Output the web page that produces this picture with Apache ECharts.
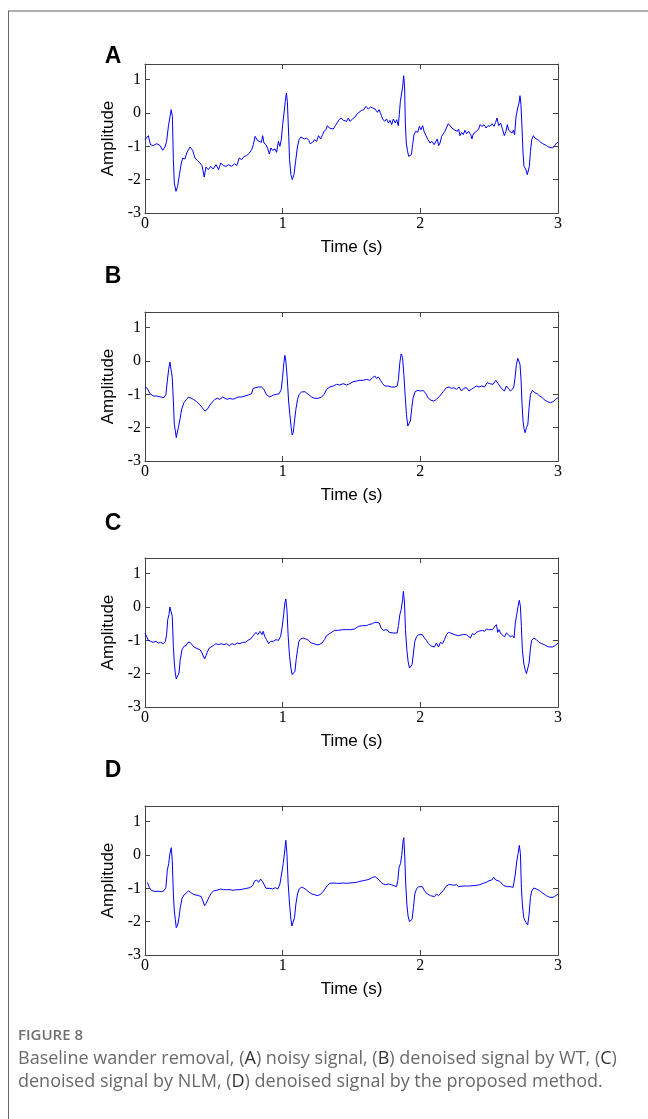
<!DOCTYPE html>
<html>
<head>
<meta charset="utf-8">
<script src="https://cdn.jsdelivr.net/npm/echarts@6/dist/echarts.min.js"></script>
<style>
    html, body { margin: 0; padding: 0; background: #fff; }
    #main { width: 648px; height: 1119px; }
</style>
</head>
<body>
<div id="main"></div>
<script>
// 面板标签
let panelNames = ['A', 'B', 'C', 'D'];
let xTicks = [0, 1, 2, 3];
let yTicks = [-3, -2, -1, 0, 1];

// (A) noisy signal: [time (s), amplitude]
let sigA = [
    [0, -0.8], [0.024, -0.68], [0.04, -0.95], [0.06, -0.98], [0.085, -0.92], [0.11, -0.98], [0.128, -1.12],
    [0.145, -1.02], [0.157, -0.85], [0.17, -0.4], [0.182, -0.1], [0.19, 0.1], [0.199, -0.1], [0.206, -1.4],
    [0.213, -2.1], [0.225, -2.35], [0.237, -2.2], [0.25, -1.85], [0.264, -1.5], [0.274, -1.35], [0.29, -1.38],
    [0.303, -1.2], [0.327, -1.02], [0.346, -1.12], [0.363, -1.35], [0.38, -1.42], [0.4, -1.5], [0.414, -1.58],
    [0.43, -1.92], [0.443, -1.62], [0.46, -1.7], [0.477, -1.6], [0.496, -1.68], [0.516, -1.55], [0.535, -1.7],
    [0.55, -1.5], [0.57, -1.58], [0.588, -1.6], [0.608, -1.55], [0.63, -1.6], [0.65, -1.52], [0.666, -1.58],
    [0.685, -1.35], [0.702, -1.4], [0.72, -1.3], [0.738, -1.28], [0.758, -1.2], [0.775, -1.1], [0.787, -0.95],
    [0.8, -0.7], [0.816, -0.82], [0.83, -0.78], [0.845, -0.88], [0.855, -0.68], [0.864, -0.9], [0.879, -0.95],
    [0.893, -1.08], [0.903, -1.23], [0.915, -1.05], [0.927, -1.12], [0.944, -1.08], [0.956, -1.18], [0.969, -0.85],
    [0.98, -1.0], [0.99, -0.8], [1.0, -0.35], [1.01, 0.0], [1.019, 0.35], [1.027, 0.6], [1.034, 0.35],
    [1.044, -0.7], [1.05, -1.4], [1.06, -1.85], [1.07, -2.0], [1.082, -1.85], [1.094, -1.45], [1.107, -1.02],
    [1.119, -0.8], [1.133, -0.72], [1.145, -0.66], [1.157, -0.78], [1.174, -0.75], [1.19, -0.82], [1.2, -0.92],
    [1.218, -0.88], [1.232, -0.8], [1.247, -0.85], [1.26, -0.68], [1.276, -0.78], [1.29, -0.65], [1.3, -0.55],
    [1.315, -0.5], [1.324, -0.38], [1.339, -0.45], [1.353, -0.4], [1.368, -0.48], [1.383, -0.38], [1.397, -0.35],
    [1.41, -0.2], [1.426, -0.15], [1.44, -0.22], [1.453, -0.16], [1.465, -0.25], [1.477, -0.15], [1.489, -0.25],
    [1.508, -0.18], [1.525, -0.12], [1.542, -0.02], [1.556, 0.02], [1.574, 0.08], [1.59, 0.1], [1.605, 0.2],
    [1.622, 0.12], [1.639, 0.18], [1.654, 0.15], [1.671, 0.12], [1.688, 0.02], [1.7, 0.1], [1.712, -0.02],
    [1.726, -0.18], [1.741, -0.25], [1.755, -0.18], [1.768, -0.3], [1.78, -0.22], [1.792, -0.35], [1.804, -0.18],
    [1.818, -0.3], [1.828, -0.2], [1.84, -0.38], [1.847, -0.05], [1.855, 0.35], [1.864, 0.3], [1.872, 0.8],
    [1.879, 1.12], [1.886, 0.75], [1.891, -0.3], [1.898, -0.9], [1.906, -1.12], [1.915, -1.3], [1.925, -1.35],
    [1.935, -1.25], [1.944, -0.95], [1.954, -0.65], [1.966, -0.55], [1.981, -0.58], [1.993, -0.4], [2.005, -0.5],
    [2.017, -0.38], [2.027, -0.55], [2.041, -0.68], [2.056, -0.8], [2.07, -0.9], [2.085, -0.85], [2.1, -0.95],
    [2.114, -0.9], [2.123, -0.78], [2.133, -0.98], [2.143, -0.9], [2.155, -0.7], [2.167, -0.65], [2.179, -0.55],
    [2.191, -0.52], [2.203, -0.32], [2.215, -0.38], [2.23, -0.45], [2.245, -0.5], [2.259, -0.45], [2.269, -0.55],
    [2.278, -0.48], [2.288, -0.68], [2.3, -0.58], [2.312, -0.65], [2.324, -0.52], [2.337, -0.62], [2.351, -0.55],
    [2.366, -0.65], [2.375, -0.78], [2.385, -0.62], [2.4, -0.58], [2.414, -0.55], [2.424, -0.48], [2.433, -0.35],
    [2.448, -0.4], [2.463, -0.35], [2.477, -0.45], [2.491, -0.38], [2.506, -0.4], [2.521, -0.32], [2.535, -0.4],
    [2.547, -0.28], [2.557, -0.15], [2.569, -0.38], [2.583, -0.3], [2.598, -0.5], [2.61, -0.68], [2.622, -0.55],
    [2.632, -0.35], [2.642, -0.52], [2.654, -0.55], [2.666, -0.6], [2.676, -0.52], [2.685, -0.65], [2.695, -0.12],
    [2.707, 0.15], [2.717, 0.3], [2.724, 0.52], [2.731, 0.25], [2.738, -0.4], [2.746, -1.2], [2.753, -1.6],
    [2.765, -1.68], [2.777, -1.85], [2.785, -1.9], [2.792, -1.6], [2.8, -1.15], [2.809, -0.8], [2.821, -0.68],
    [2.833, -0.75], [2.845, -0.78], [2.859, -0.82], [2.874, -0.88], [2.889, -0.92], [2.903, -0.95], [2.917, -0.98],
    [2.932, -1.02], [2.946, -0.98], [2.961, -1.05], [2.976, -0.98], [2.99, -0.9], [3.0, -0.88]
];

// (B) denoised by WT
let sigB = [
    [0, -0.78], [0.017, -0.82], [0.036, -0.98], [0.06, -1.05], [0.085, -1.05], [0.114, -1.08], [0.138, -1.1],
    [0.152, -1.0], [0.162, -0.6], [0.172, -0.25], [0.181, -0.03], [0.191, -0.05], [0.198, -0.5], [0.206, -1.2],
    [0.213, -1.9], [0.22, -2.08], [0.227, -2.3], [0.235, -2.25], [0.242, -2.0], [0.254, -1.75], [0.266, -1.45],
    [0.283, -1.25], [0.302, -1.15], [0.317, -1.08], [0.331, -1.02], [0.351, -1.15], [0.375, -1.22], [0.4, -1.32],
    [0.419, -1.42], [0.436, -1.5], [0.452, -1.45], [0.472, -1.32], [0.491, -1.22], [0.508, -1.15], [0.525, -1.12],
    [0.544, -1.15], [0.564, -1.08], [0.581, -1.12], [0.598, -1.15], [0.617, -1.12], [0.636, -1.15], [0.656, -1.12],
    [0.677, -1.08], [0.702, -1.08], [0.726, -1.05], [0.75, -1.02], [0.774, -0.98], [0.786, -0.82], [0.798, -0.78],
    [0.823, -0.78], [0.847, -0.78], [0.864, -0.85], [0.883, -1.02], [0.907, -1.08], [0.932, -1.02], [0.956, -1.0],
    [0.975, -0.98], [0.99, -0.85], [0.999, -0.5], [1.009, -0.05], [1.016, 0.17], [1.023, 0.0], [1.033, -0.5],
    [1.043, -1.2], [1.052, -1.6], [1.062, -2.0], [1.069, -2.22], [1.077, -2.15], [1.086, -1.8], [1.096, -1.45],
    [1.108, -1.15], [1.12, -1.0], [1.137, -0.93], [1.161, -0.92], [1.186, -1.0], [1.21, -1.08], [1.234, -1.12],
    [1.258, -1.12], [1.282, -1.08], [1.302, -1.0], [1.319, -0.85], [1.343, -0.78], [1.367, -0.75], [1.391, -0.7],
    [1.415, -0.72], [1.44, -0.68], [1.464, -0.72], [1.488, -0.68], [1.512, -0.62], [1.536, -0.6], [1.561, -0.58],
    [1.585, -0.58], [1.609, -0.55], [1.633, -0.58], [1.653, -0.5], [1.669, -0.45], [1.681, -0.52], [1.696, -0.48],
    [1.711, -0.58], [1.726, -0.68], [1.742, -0.75], [1.766, -0.75], [1.79, -0.78], [1.815, -0.78], [1.832, -0.75],
    [1.841, -0.55], [1.851, -0.05], [1.861, 0.21], [1.871, 0.1], [1.88, -0.4], [1.89, -1.05], [1.899, -1.6],
    [1.909, -1.95], [1.919, -2.0], [1.928, -1.8], [1.938, -1.4], [1.948, -1.1], [1.962, -0.92], [1.982, -0.88],
    [2.001, -0.9], [2.02, -0.88], [2.04, -0.98], [2.059, -1.12], [2.078, -1.18], [2.098, -1.2], [2.117, -1.15],
    [2.141, -1.05], [2.166, -0.92], [2.19, -0.8], [2.209, -0.78], [2.226, -0.82], [2.243, -0.8], [2.262, -0.85],
    [2.282, -0.78], [2.299, -0.9], [2.316, -0.82], [2.335, -0.8], [2.354, -0.9], [2.371, -0.85], [2.388, -0.8],
    [2.407, -0.75], [2.427, -0.78], [2.446, -0.75], [2.466, -0.78], [2.485, -0.65], [2.504, -0.68], [2.516, -0.62],
    [2.528, -0.7], [2.548, -0.58], [2.565, -0.68], [2.582, -0.78], [2.596, -0.85], [2.611, -0.9], [2.625, -0.75],
    [2.64, -0.82], [2.654, -0.9], [2.669, -0.85], [2.679, -0.78], [2.688, -0.5], [2.698, -0.1], [2.708, 0.08],
    [2.717, 0.1], [2.724, -0.1], [2.732, -0.6], [2.739, -1.3], [2.746, -1.8], [2.754, -2.05], [2.761, -2.15],
    [2.771, -2.0], [2.781, -1.9], [2.79, -1.4], [2.8, -1.0], [2.814, -0.88], [2.831, -0.95], [2.848, -0.98],
    [2.867, -1.05], [2.886, -1.1], [2.906, -1.18], [2.925, -1.22], [2.945, -1.25], [2.964, -1.22], [2.983, -1.15],
    [3.0, -1.1]
];

// (C) denoised by NLM
let sigC = [
    [0, -0.78], [0.012, -0.8], [0.024, -1.0], [0.041, -1.03], [0.06, -1.06], [0.08, -1.03], [0.097, -1.08],
    [0.114, -1.06], [0.133, -1.1], [0.148, -1.03], [0.157, -0.83], [0.165, -0.38], [0.174, -0.23], [0.181, 0.0],
    [0.191, 0.04], [0.198, -0.28], [0.206, -1.18], [0.213, -1.68], [0.22, -1.98], [0.227, -2.16], [0.237, -2.13],
    [0.247, -1.98], [0.256, -1.58], [0.269, -1.28], [0.283, -1.18], [0.298, -1.16], [0.312, -1.06], [0.327, -1.06],
    [0.341, -1.08], [0.356, -1.2], [0.37, -1.23], [0.385, -1.26], [0.4, -1.28], [0.414, -1.38], [0.423, -1.36],
    [0.433, -1.56], [0.443, -1.46], [0.452, -1.36], [0.467, -1.23], [0.481, -1.26], [0.496, -1.16], [0.515, -1.1],
    [0.535, -1.13], [0.554, -1.1], [0.573, -1.13], [0.593, -1.1], [0.612, -1.16], [0.632, -1.1], [0.651, -1.13],
    [0.67, -1.08], [0.69, -1.1], [0.709, -1.06], [0.728, -1.06], [0.748, -1.0], [0.767, -0.96], [0.782, -0.88],
    [0.796, -0.83], [0.806, -0.76], [0.82, -0.83], [0.835, -0.73], [0.85, -0.83], [0.859, -0.73], [0.869, -0.88],
    [0.883, -0.98], [0.898, -1.1], [0.912, -1.03], [0.932, -1.03], [0.951, -0.98], [0.97, -1.0], [0.985, -0.88],
    [0.997, -0.58], [1.007, -0.23], [1.016, 0.12], [1.023, 0.24], [1.031, -0.08], [1.04, -0.88], [1.05, -1.48],
    [1.06, -1.83], [1.069, -2.03], [1.079, -2.06], [1.089, -1.93], [1.098, -1.58], [1.108, -1.28], [1.118, -1.03],
    [1.13, -0.96], [1.149, -0.93], [1.169, -0.96], [1.188, -1.0], [1.207, -1.08], [1.227, -1.1], [1.246, -1.13],
    [1.265, -1.13], [1.285, -1.08], [1.304, -0.98], [1.319, -0.86], [1.333, -0.8], [1.348, -0.78], [1.362, -0.76],
    [1.377, -0.7], [1.391, -0.68], [1.406, -0.7], [1.42, -0.66], [1.435, -0.68], [1.449, -0.7], [1.464, -0.68],
    [1.478, -0.66], [1.493, -0.68], [1.507, -0.63], [1.522, -0.66], [1.536, -0.6], [1.551, -0.58], [1.565, -0.6],
    [1.58, -0.56], [1.594, -0.58], [1.609, -0.56], [1.624, -0.53], [1.638, -0.56], [1.653, -0.5], [1.669, -0.46],
    [1.686, -0.46], [1.701, -0.48], [1.715, -0.63], [1.73, -0.7], [1.744, -0.73], [1.759, -0.68], [1.774, -0.76],
    [1.788, -0.73], [1.803, -0.78], [1.817, -0.73], [1.832, -0.78], [1.841, -0.56], [1.851, -0.23], [1.861, -0.08],
    [1.871, 0.22], [1.877, 0.47], [1.885, 0.12], [1.892, -0.68], [1.902, -1.28], [1.911, -1.63], [1.921, -1.83],
    [1.931, -1.86], [1.94, -1.73], [1.95, -1.38], [1.96, -1.03], [1.972, -0.9], [1.987, -0.83], [2.001, -0.86],
    [2.015, -0.83], [2.03, -0.93], [2.045, -1.0], [2.059, -1.1], [2.074, -1.16], [2.088, -1.1], [2.103, -1.2],
    [2.117, -1.08], [2.132, -1.2], [2.146, -1.06], [2.161, -1.1], [2.175, -0.98], [2.19, -0.83], [2.204, -0.76],
    [2.219, -0.78], [2.233, -0.74], [2.248, -0.83], [2.262, -0.78], [2.277, -0.86], [2.291, -0.8], [2.306, -0.83],
    [2.32, -0.86], [2.335, -0.83], [2.349, -0.78], [2.364, -0.93], [2.378, -0.8], [2.393, -0.83], [2.407, -0.76],
    [2.422, -0.73], [2.436, -0.76], [2.451, -0.7], [2.466, -0.73], [2.48, -0.66], [2.495, -0.68], [2.509, -0.63],
    [2.524, -0.68], [2.538, -0.6], [2.553, -0.53], [2.562, -0.76], [2.572, -0.68], [2.582, -0.78], [2.596, -0.73],
    [2.611, -0.9], [2.625, -0.78], [2.64, -0.83], [2.654, -0.9], [2.669, -0.86], [2.681, -0.93], [2.69, -0.48],
    [2.7, -0.23], [2.71, 0.02], [2.719, 0.2], [2.727, 0.02], [2.734, -0.58], [2.741, -1.28], [2.751, -1.68],
    [2.761, -1.88], [2.771, -2.0], [2.78, -2.03], [2.79, -1.68], [2.8, -1.23], [2.809, -1.0], [2.824, -0.93],
    [2.843, -0.98], [2.862, -1.06], [2.882, -1.1], [2.901, -1.13], [2.921, -1.18], [2.94, -1.2], [2.959, -1.2],
    [2.979, -1.16], [3.0, -1.08]
];

// (D) denoised by the proposed method
let sigD = [
    [0.017, -0.82], [0.031, -0.97], [0.048, -1.07], [0.073, -1.09], [0.097, -1.09], [0.121, -1.1], [0.138, -1.07],
    [0.152, -0.97], [0.162, -0.46], [0.172, -0.26], [0.181, 0.04], [0.191, 0.22], [0.198, -0.16], [0.206, -1.17],
    [0.213, -1.68], [0.22, -1.93], [0.227, -2.18], [0.237, -2.1], [0.247, -1.88], [0.256, -1.58], [0.269, -1.3],
    [0.283, -1.2], [0.298, -1.15], [0.315, -1.08], [0.331, -1.12], [0.351, -1.18], [0.37, -1.2], [0.39, -1.22],
    [0.409, -1.25], [0.423, -1.3], [0.433, -1.52], [0.443, -1.45], [0.452, -1.38], [0.467, -1.25], [0.481, -1.15],
    [0.496, -1.08], [0.51, -1.02], [0.53, -1.05], [0.549, -1.02], [0.569, -1.04], [0.593, -1.04], [0.617, -1.04],
    [0.641, -1.06], [0.665, -1.04], [0.69, -1.04], [0.714, -1.02], [0.738, -1.0], [0.762, -0.98], [0.782, -0.92],
    [0.796, -0.78], [0.811, -0.75], [0.825, -0.82], [0.84, -0.72], [0.854, -0.8], [0.864, -0.85], [0.879, -1.0],
    [0.893, -1.05], [0.908, -1.0], [0.927, -1.02], [0.946, -0.98], [0.965, -1.02], [0.98, -0.87], [0.992, -0.57],
    [1.004, -0.26], [1.014, 0.09], [1.023, 0.44], [1.031, 0.04], [1.04, -0.87], [1.05, -1.47], [1.06, -1.93],
    [1.067, -2.13], [1.077, -2.08], [1.086, -1.88], [1.096, -1.47], [1.108, -1.17], [1.12, -1.02], [1.135, -0.97],
    [1.154, -0.99], [1.173, -1.05], [1.193, -1.12], [1.212, -1.17], [1.232, -1.19], [1.251, -1.22], [1.27, -1.19],
    [1.29, -1.12], [1.307, -1.02], [1.324, -0.92], [1.343, -0.85], [1.367, -0.84], [1.391, -0.85], [1.415, -0.85],
    [1.44, -0.84], [1.464, -0.85], [1.488, -0.84], [1.512, -0.83], [1.536, -0.82], [1.561, -0.79], [1.585, -0.77],
    [1.609, -0.75], [1.633, -0.72], [1.653, -0.67], [1.672, -0.65], [1.686, -0.67], [1.701, -0.75], [1.715, -0.82],
    [1.73, -0.87], [1.749, -0.89], [1.768, -0.87], [1.788, -0.89], [1.807, -0.92], [1.827, -0.95], [1.836, -0.77],
    [1.846, -0.36], [1.856, -0.26], [1.865, -0.01], [1.875, 0.44], [1.88, 0.52], [1.887, -0.06], [1.894, -0.87],
    [1.902, -1.47], [1.911, -1.83], [1.921, -2.0], [1.931, -2.03], [1.94, -1.93], [1.95, -1.58], [1.96, -1.17],
    [1.972, -1.02], [1.987, -0.95], [2.001, -0.97], [2.015, -0.95], [2.03, -1.07], [2.045, -1.15], [2.059, -1.19],
    [2.074, -1.22], [2.088, -1.19], [2.103, -1.25], [2.117, -1.17], [2.132, -1.22], [2.146, -1.17], [2.166, -1.07],
    [2.185, -0.95], [2.204, -0.89], [2.224, -0.89], [2.243, -0.91], [2.262, -0.89], [2.277, -0.95], [2.291, -0.91],
    [2.311, -0.93], [2.335, -0.93], [2.359, -0.93], [2.383, -0.92], [2.407, -0.91], [2.432, -0.89], [2.456, -0.85],
    [2.48, -0.82], [2.499, -0.77], [2.519, -0.75], [2.533, -0.67], [2.548, -0.75], [2.562, -0.69], [2.577, -0.79],
    [2.591, -0.85], [2.606, -0.92], [2.62, -0.87], [2.635, -0.95], [2.654, -0.95], [2.674, -0.97], [2.683, -1.02],
    [2.69, -0.57], [2.7, -0.21], [2.71, 0.04], [2.719, 0.29], [2.727, 0.04], [2.734, -0.97], [2.741, -1.47],
    [2.751, -1.88], [2.761, -1.98], [2.771, -2.03], [2.78, -2.1], [2.79, -1.78], [2.8, -1.27], [2.809, -1.08],
    [2.824, -0.99], [2.843, -1.02], [2.867, -1.07], [2.891, -1.15], [2.916, -1.22], [2.94, -1.27], [2.964, -1.27],
    [2.983, -1.22], [3.0, -1.17]
];

let signals = [sigA, sigB, sigC, sigD];

// 每个面板的位置
let gridTop = [64, 312, 558, 806];
let gridHeight = 149;
let letterY = [57, 277, 524, 771];

let axisColor = '#444';
let serif = '"Liberation Serif", "Times New Roman", serif';
let sans = '"Liberation Sans", Arial, sans-serif';

let grids = [], xAxes = [], yAxes = [], series = [], graphics = [];

signals.forEach((sig, i) => {
    grids.push({ left: 145, width: 413, top: gridTop[i], height: gridHeight });

    let lineCommon = { show: true, onZero: false, lineStyle: { color: axisColor, width: 1 } };
    let tickCommon = { show: true, inside: true, length: 5, lineStyle: { color: axisColor } };

    // 横轴（下 + 上）
    xAxes.push({
        gridIndex: i, type: 'value', position: 'bottom',
        min: xTicks[0], max: xTicks[xTicks.length - 1], interval: 1,
        axisLine: lineCommon, axisTick: tickCommon, splitLine: { show: false },
        axisLabel: { color: '#000', fontFamily: serif, fontSize: 16, margin: 3 },
        name: 'Time (s)', nameLocation: 'middle', nameGap: 34,
        nameTextStyle: { color: '#000', fontFamily: sans, fontSize: 17, verticalAlign: 'middle' }
    });
    xAxes.push({
        gridIndex: i, type: 'value', position: 'top',
        min: xTicks[0], max: xTicks[xTicks.length - 1], interval: 1,
        axisLine: lineCommon, axisTick: tickCommon, splitLine: { show: false },
        axisLabel: { show: false }
    });

    // 纵轴（左 + 右）
    yAxes.push({
        gridIndex: i, type: 'value', position: 'left',
        min: yTicks[0], max: 1.47, interval: 1,
        axisLine: lineCommon, axisTick: tickCommon, splitLine: { show: false },
        axisLabel: {
            color: '#000', fontFamily: serif, fontSize: 16, margin: 4, showMaxLabel: false,
            formatter: v => (yTicks.indexOf(v) >= 0 ? String(v) : '')
        },
        name: 'Amplitude', nameLocation: 'middle', nameGap: 35,
        nameTextStyle: { color: '#000', fontFamily: sans, fontSize: 17, verticalAlign: 'middle' }
    });
    yAxes.push({
        gridIndex: i, type: 'value', position: 'right',
        min: yTicks[0], max: 1.47, interval: 1,
        axisLine: lineCommon, axisTick: tickCommon, splitLine: { show: false },
        axisLabel: { show: false }
    });

    series.push({
        type: 'line',
        xAxisIndex: i * 2,
        yAxisIndex: i * 2,
        data: sig,
        showSymbol: false,
        symbol: 'none',
        lineStyle: { color: '#0000ff', width: 1 },
        silent: true
    });

    graphics.push({
        type: 'text',
        style: {
            x: 113, y: letterY[i], text: panelNames[i],
            font: 'bold 23px ' + sans, fill: '#000',
            textAlign: 'center', textVerticalAlign: 'middle'
        }
    });
});

// 外框
graphics.push({
    type: 'line', shape: { x1: 8, y1: 11, x2: 648, y2: 11 },
    style: { stroke: '#b0b0b0', lineWidth: 2 }
});
graphics.push({
    type: 'line', shape: { x1: 8.5, y1: 11, x2: 8.5, y2: 1119 },
    style: { stroke: '#666', lineWidth: 1 }
});

// 图注
let capFont = '"Open Sans", "Noto Sans", sans-serif';
graphics.push({
    type: 'text',
    style: {
        x: 18, y: 1036, text: 'FIGURE 8', textVerticalAlign: 'middle',
        font: '600 15px ' + capFont, fill: '#707070'
    }
});
graphics.push({
    type: 'text',
    style: {
        x: 18, y: 1047,
        text: 'Baseline wander removal, ({b|A}) noisy signal, ({b|B}) denoised signal by WT, ({b|C})\n'
            + 'denoised signal by NLM, ({b|D}) denoised signal by the proposed method.',
        font: '400 18px ' + capFont, fill: '#6a6a6a', lineHeight: 23,
        rich: { b: { fill: '#333', font: '400 18px ' + capFont } }
    }
});

let myChart = echarts.init(document.getElementById('main'), null, { renderer: 'canvas' });
myChart.setOption({
    animation: false,
    backgroundColor: '#fff',
    grid: grids,
    xAxis: xAxes,
    yAxis: yAxes,
    series: series,
    graphic: graphics
});
</script>
</body>
</html>
